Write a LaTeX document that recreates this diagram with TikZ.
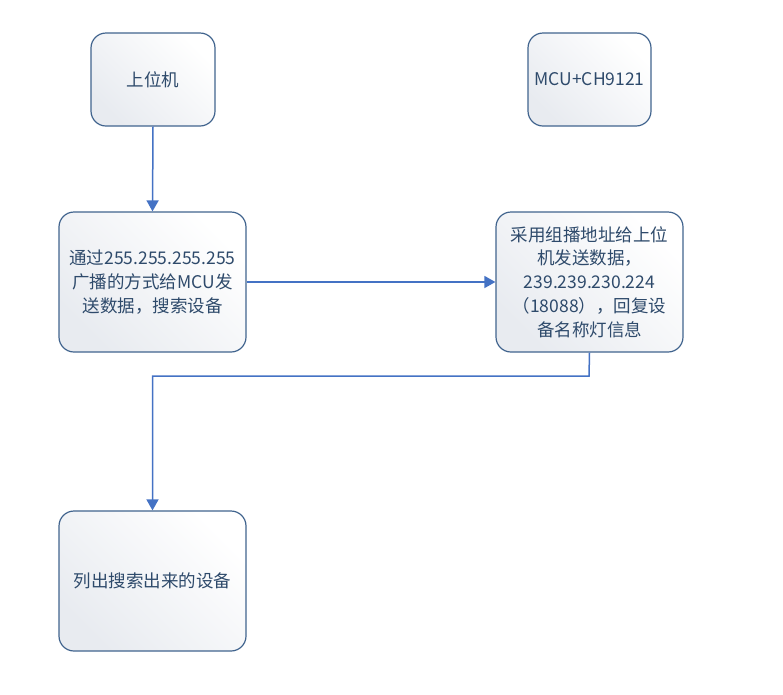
\documentclass[tikz,border=0pt]{standalone}
\usepackage{fontspec}
\setmainfont{Noto Sans CJK SC}
\usetikzlibrary{arrows.meta}
\definecolor{boxline}{HTML}{41648E}
\definecolor{arrowblue}{HTML}{4472C4}
\definecolor{txt}{HTML}{2E4A6B}
\definecolor{shadegray}{HTML}{E8EBF0}
\tikzset{
  box/.style={draw=boxline, line width=1.2pt, rounded corners=15pt,
    left color=shadegray, right color=white, shading angle=135,
    minimum width=#1, align=center, text=txt,
    font=\fontsize{17.5}{23.8}\selectfont, inner sep=0pt},
  conn/.style={draw=arrowblue, line width=1.5pt,
    -{Triangle[length=11pt,width=12pt]}}
}
\begin{document}
\begin{tikzpicture}[x=1pt,y=-1pt]
\useasboundingbox (0,0) rectangle (783,694);
\node[box=124pt, minimum height=93pt] (a) at (153,79.5) {上位机};
\node[box=123pt, minimum height=93pt] (b) at (589.5,79.5) {MCU+CH9121};
\node[box=187pt, minimum height=140pt] (c) at (152.5,282) {通过255.255.255.255\\广播的方式给MCU发\\送数据，搜索设备};
\node[box=187pt, minimum height=140pt] (d) at (589.5,282) {采用组播地址给上位\\机发送数据，\\239.239.230.224\\（18088），回复设\\备名称灯信息};
\node[box=187pt, minimum height=140pt] (e) at (152.5,581) {列出搜索出来的设备};
\draw[conn] (a.south) -- (c.north);
\draw[conn] (c.east) -- (d.west);
\coordinate (bend) at (589,376);
\draw[conn] (d.south) -- (bend) -| (e.north);
\end{tikzpicture}
\end{document}
